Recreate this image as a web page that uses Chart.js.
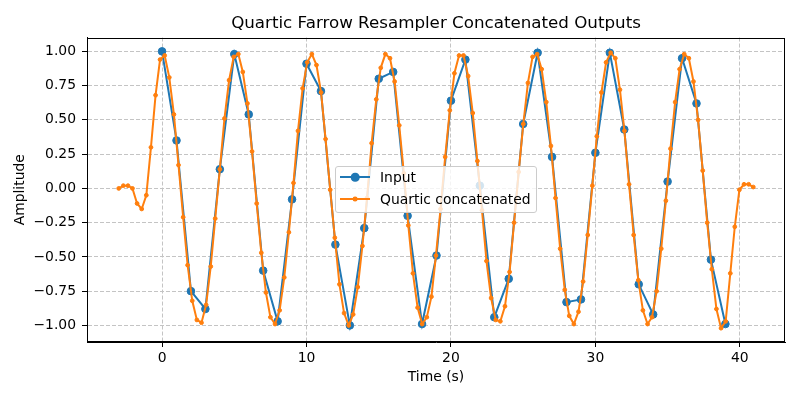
<!DOCTYPE html>
<html lang="en">
<head>
  <meta charset="UTF-8" />
  <title>Quartic Farrow Resampler Concatenated Outputs</title>
  <script src="https://cdn.jsdelivr.net/npm/chart.js"></script>
  <style>
    body { margin: 0; background: #fff; }
    #wrap { position: relative; width: 800px; height: 400px; }
    #legend {
      position: absolute; left: 335px; top: 166px; width: 202px; height: 47px;
      box-sizing: border-box; border: 1px solid #ccc; border-radius: 3px;
      background: rgba(255, 255, 255, 0.8);
      font: 13.9px "DejaVu Sans", sans-serif; color: #000;
    }
    .row { display: flex; align-items: center; height: 20px; margin-bottom: 2px; }
    .handle { position: relative; width: 30px; height: 20px; margin: 0 10px 0 4px; }
    .handle .ln { position: absolute; left: 0; right: 0; top: 9px; height: 2px; }
    .handle .dot { position: absolute; left: 50%; top: 10px; border-radius: 50%; transform: translate(-50%, -50%); }
  </style>
</head>
<body>

  <div id="wrap">
    <canvas id="chart" width="800" height="400"></canvas>
    <div id="legend"></div>
  </div>

  <script>
    // input samples (one per second)
    const inputTimes = [0, 1, 2, 3, 4, 5, 6, 7, 8, 9, 10, 11, 12, 13, 14, 15, 16, 17, 18, 19,
      20, 21, 22, 23, 24, 25, 26, 27, 28, 29, 30, 31, 32, 33, 34, 35, 36, 37, 38, 39];
    const inputValues = [1.00, 0.35, -0.75, -0.88, 0.14, 0.98, 0.54, -0.60, -0.97, -0.08,
      0.91, 0.71, -0.41, -1.00, -0.29, 0.80, 0.85, -0.20, -0.99, -0.49,
      0.64, 0.94, 0.02, -0.94, -0.66, 0.47, 0.99, 0.23, -0.83, -0.81,
      0.26, 0.99, 0.43, -0.70, -0.92, 0.05, 0.95, 0.62, -0.52, -0.99];

    // resampler output (concatenated blocks)
    const quarticTimes = [
      -3.00, -2.68, -2.36, -2.05, -1.73, -1.41, -1.09, -0.77, -0.45, -0.14,
      0.18, 0.50, 0.82, 1.14, 1.46, 1.77, 2.09, 2.41, 2.73, 3.05,
      3.37, 3.68, 4.00, 4.32, 4.64, 4.96, 5.28, 5.59, 5.91, 6.23,
      6.55, 6.87, 7.19, 7.50, 7.82, 8.14, 8.46, 8.78, 9.10, 9.41,
      9.73, 10.05, 10.37, 10.69, 11.01, 11.32, 11.64, 11.96, 12.28, 12.60,
      12.92, 13.23, 13.55, 13.87, 14.19, 14.51, 14.83, 15.14, 15.46, 15.78,
      16.10, 16.42, 16.74, 17.05, 17.37, 17.69, 18.01, 18.33, 18.65, 18.96,
      19.28, 19.60, 19.92, 20.24, 20.56, 20.87, 21.19, 21.51, 21.83, 22.15,
      22.46, 22.78, 23.10, 23.42, 23.74, 24.06, 24.37, 24.69, 25.01, 25.33,
      25.65, 25.97, 26.28, 26.60, 26.92, 27.24, 27.56, 27.88, 28.19, 28.51,
      28.83, 29.15, 29.47, 29.79, 30.10, 30.42, 30.74, 31.06, 31.38, 31.70,
      32.01, 32.33, 32.65, 32.97, 33.29, 33.61, 33.92, 34.24, 34.56, 34.88,
      35.20, 35.52, 35.83, 36.15, 36.47, 36.79, 37.11, 37.43, 37.74, 38.06,
      38.38, 38.70, 39.02, 39.34, 39.65, 39.97, 40.29, 40.61, 40.93];
    const quarticValues = [
      0.00, 0.02, 0.02, 0.00, -0.11, -0.15, -0.05, 0.30, 0.68, 0.94,
      0.97, 0.81, 0.54, 0.17, -0.21, -0.56, -0.82, -0.96, -0.98, -0.85,
      -0.57, -0.22, 0.14, 0.51, 0.79, 0.96, 0.98, 0.85, 0.62, 0.27,
      -0.11, -0.47, -0.76, -0.94, -0.99, -0.89, -0.65, -0.32, 0.04, 0.42,
      0.73, 0.92, 0.98, 0.90, 0.70, 0.36, -0.01, -0.36, -0.70, -0.91,
      -1.00, -0.92, -0.72, -0.42, -0.07, 0.33, 0.65, 0.88, 0.98, 0.95,
      0.78, 0.46, 0.11, -0.27, -0.62, -0.87, -0.99, -0.94, -0.79, -0.49,
      -0.15, 0.23, 0.57, 0.84, 0.97, 0.97, 0.82, 0.55, 0.20, -0.16,
      -0.53, -0.80, -0.96, -0.97, -0.86, -0.61, -0.25, 0.12, 0.47, 0.77,
      0.96, 0.98, 0.87, 0.63, 0.31, -0.07, -0.44, -0.74, -0.93, -0.99,
      -0.90, -0.68, -0.34, 0.02, 0.38, 0.70, 0.92, 0.99, 0.95, 0.72,
      0.42, 0.03, -0.34, -0.67, -0.89, -0.99, -0.94, -0.75, -0.44, -0.09,
      0.29, 0.63, 0.87, 0.98, 0.95, 0.78, 0.50, 0.13, -0.25, -0.59,
      -0.88, -1.02, -0.97, -0.62, -0.28, -0.01, 0.03, 0.03, 0.01];

    const xTicks = [0, 10, 20, 30, 40];
    const yTicks = [-1, -0.75, -0.5, -0.25, 0, 0.25, 0.5, 0.75, 1];

    const FONT = "'DejaVu Sans', sans-serif";
    Chart.defaults.font.family = FONT;
    Chart.defaults.color = '#000';

    const toPoints = (xs, ys) => xs.map((x, i) => ({ x: x, y: ys[i] }));
    const fmtY = v => (v < 0 ? '\u2212' : '') + Math.abs(v).toFixed(2);

    // matplotlib-style box around the axes
    const frame = {
      id: 'frame',
      afterDatasetsDraw(chart) {
        const { ctx, chartArea: a } = chart;
        ctx.save();
        ctx.strokeStyle = '#000';
        ctx.lineWidth = 1;
        ctx.strokeRect(Math.round(a.left) + 0.5, Math.round(a.top) + 0.5,
          Math.round(a.right - a.left) - 1, Math.round(a.bottom - a.top) - 1);
        ctx.restore();
      }
    };

    const gridOpts = { color: '#c4c4c4', lineWidth: 1, tickColor: '#000', tickWidth: 1, tickLength: 5, tickBorderDash: [] };

    const chart = new Chart(document.getElementById('chart').getContext('2d'), {
      type: 'line',
      data: {
        datasets: [{
          label: 'Input',
          data: toPoints(inputTimes, inputValues),
          borderColor: '#1f77b4',
          backgroundColor: '#1f77b4',
          borderWidth: 2,
          pointRadius: 3.8,
          pointBorderWidth: 1,
          tension: 0,
          order: 2
        }, {
          label: 'Quartic concatenated',
          data: toPoints(quarticTimes, quarticValues),
          borderColor: '#ff7f0e',
          backgroundColor: '#ff7f0e',
          borderWidth: 2,
          pointRadius: 1.9,
          pointBorderWidth: 1,
          tension: 0,
          order: 1
        }]
      },
      options: {
        responsive: false,
        animation: false,
        layout: { padding: { left: 0, right: 15, top: 0, bottom: 0 } },
        plugins: {
          legend: { display: false },
          tooltip: { enabled: false },
          title: {
            display: true,
            fullSize: false,
            text: 'Quartic Farrow Resampler Concatenated Outputs',
            color: '#000',
            font: { size: 16.7, weight: 'normal' },
            padding: { top: 13.5, bottom: 4 }
          }
        },
        scales: {
          x: {
            type: 'linear',
            min: -5.197,
            max: 43.127,
            afterBuildTicks: s => { s.ticks = xTicks.map(v => ({ value: v })); },
            afterFit: s => { s.height = 58; },
            ticks: { font: { size: 13.9 }, padding: 3, maxRotation: 0, callback: v => String(v) },
            grid: gridOpts,
            border: { display: true, color: '#000', width: 1, dash: [4, 2] },
            title: { display: true, text: 'Time (s)', font: { size: 13.9 }, padding: { top: 0, bottom: 14 } }
          },
          y: {
            min: -1.121,
            max: 1.101,
            afterBuildTicks: s => { s.ticks = yTicks.map(v => ({ value: v })); },
            afterFit: s => { s.width = 87; },
            ticks: { font: { size: 13.9 }, padding: 6, callback: v => fmtY(v) },
            grid: gridOpts,
            border: { display: true, color: '#000', width: 1, dash: [4, 2] },
            title: { display: true, text: 'Amplitude', font: { size: 13.9 }, padding: { top: 12, bottom: 0 } }
          }
        }
      },
      plugins: [frame]
    });

    // legend box inside the plot, built from the datasets
    const legend = document.getElementById('legend');
    chart.data.datasets.forEach(ds => {
      const size = 2 * (ds.pointRadius + ds.pointBorderWidth / 2);
      const row = document.createElement('div');
      row.className = 'row';
      row.innerHTML =
        '<span class="handle"><span class="ln" style="background:' + ds.borderColor + '"></span>' +
        '<span class="dot" style="width:' + size + 'px;height:' + size + 'px;background:' + ds.borderColor + '"></span></span>' +
        '<span>' + ds.label + '</span>';
      legend.appendChild(row);
    });
  </script>

</body>
</html>
